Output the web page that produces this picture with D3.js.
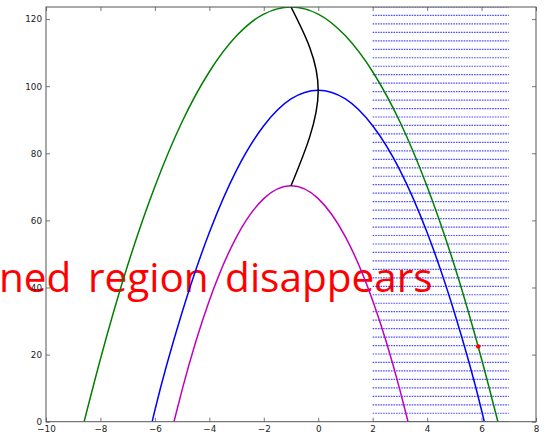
<!DOCTYPE html>
<html>
<head>
<meta charset="utf-8">
<script src="https://cdn.jsdelivr.net/npm/d3@7"></script>
<style>
  html, body { margin: 0; padding: 0; background: #fff; }
  svg { display: block; }
</style>
</head>
<body>
<svg id="chart" width="546" height="434"></svg>
<script>
// ---- data ----
const greenX = [-8.6, -8, -7, -6, -5, -4, -3, -2, -1, 0, 1, 2, 3, 4, 5, 6, 6.6];
const greenY = [0, 18.7, 46.6, 70.1, 89.4, 104.3, 115.0, 121.5, 123.6, 121.5, 115.0, 104.3, 89.4, 70.1, 46.6, 18.7, 0];

const blueX = [-6.1, -6, -5, -4, -3, -2, -1, 0, 1, 2, 3, 4, 5, 6, 6.1];
const blueY = [0, 3.4, 32.6, 56.4, 75.0, 88.2, 96.2, 98.8, 96.2, 88.2, 75.0, 56.4, 32.6, 3.4, 0];

const magentaX = [-5.3, -5, -4, -3, -2, -1, 0, 1, 2, 3, 3.3];
const magentaY = [0, 9.5, 36.1, 55.1, 66.5, 70.3, 66.5, 55.1, 36.1, 9.5, 0];

const vertexX = [-1, 0, -1];
const vertexY = [123.6, 98.8, 70.3];

const markX = [5.88];
const markY = [22.4];

const gridLevels = [0, 2.52, 5.04, 7.57, 10.09, 12.61, 15.13, 17.66, 20.18, 22.70,
  25.22, 27.75, 30.27, 32.79, 35.31, 37.84, 40.36, 42.88, 45.40, 47.93,
  50.45, 52.97, 55.49, 58.02, 60.54, 63.06, 65.58, 68.11, 70.63, 73.15,
  75.67, 78.20, 80.72, 83.24, 85.76, 88.29, 90.81, 93.33, 95.85, 98.38,
  100.90, 103.42, 105.94, 108.47, 110.99, 113.51, 116.03, 118.56, 121.08, 123.6];
const gridFrom = 2, gridTo = 7;

const xTicks = [-10, -8, -6, -4, -2, 0, 2, 4, 6, 8];
const yTicks = [0, 20, 40, 60, 80, 100, 120];
const xDomain = [-10, 8];
const yDomain = [0, 123.6];
const label = "ned region disappears";

// ---- drawing ----
const W = 546, H = 434;
const m = { left: 46, right: 10, top: 7, bottom: 12.3 };
const svg = d3.select("#chart");

const x = d3.scaleLinear().domain(xDomain).range([m.left, W - m.right]);
const y = d3.scaleLinear().domain(yDomain).range([H - m.bottom, m.top]);

svg.append("defs").append("clipPath").attr("id", "clip")
  .append("rect").attr("x", m.left).attr("y", m.top)
  .attr("width", W - m.left - m.right).attr("height", H - m.top - m.bottom);

// Big red text (behind)
svg.append("text")
  .attr("x", -1).attr("y", 292)
  .attr("font-family", "'Open Sans', sans-serif")
  .attr("font-size", 40.5)
  .attr("word-spacing", 6)
  .attr("fill", "#ff0000")
  .text(label);

const plot = svg.append("g").attr("clip-path", "url(#clip)");

// dotted horizontal rows
plot.selectAll("line.grid").data(gridLevels).join("line")
  .attr("class", "grid")
  .attr("x1", x(gridFrom)).attr("x2", x(gridTo))
  .attr("y1", d => y(d)).attr("y2", d => y(d))
  .attr("stroke", "#0000ff").attr("stroke-opacity", 0.7)
  .attr("stroke-width", 1.2).attr("stroke-dasharray", "1.6,1");

function series(xs, ys, color, curve) {
  const pts = xs.map((v, i) => [v, ys[i]]);
  const l = d3.line().x(d => x(d[0])).y(d => y(d[1])).curve(curve || d3.curveMonotoneX);
  plot.append("path").datum(pts).attr("d", l)
    .attr("fill", "none").attr("stroke", color).attr("stroke-width", 1.5);
}
series(greenX, greenY, "#008000");
series(blueX, blueY, "#0000ff");
series(magentaX, magentaY, "#bf00bf");
series(vertexX, vertexY, "#000000", d3.curveNatural);

plot.selectAll("circle.mark").data(markX).join("circle")
  .attr("class", "mark")
  .attr("cx", d => x(d)).attr("cy", (d, i) => y(markY[i]))
  .attr("r", 2.3).attr("fill", "#ff0000");

// axes (classic matplotlib: ticks inside on all four sides)
const axisColor = "#555";
const tickLen = 4;
function styleAxis(g) {
  g.select(".domain").remove();
  g.selectAll(".tick line").attr("stroke", axisColor).attr("stroke-width", 0.8);
  g.selectAll(".tick text").attr("fill", "#222")
    .attr("font-family", "'DejaVu Sans', sans-serif").attr("font-size", 8.8);
}
const fmt = d => (d < 0 ? "\u2212" + Math.abs(d) : String(d));

svg.append("g").attr("transform", `translate(0,${H - m.bottom})`)
  .call(d3.axisBottom(x).tickValues(xTicks).tickFormat(fmt).tickSizeInner(-tickLen).tickSizeOuter(0).tickPadding(4))
  .call(styleAxis);
svg.append("g").attr("transform", `translate(0,${m.top})`)
  .call(d3.axisTop(x).tickValues(xTicks).tickFormat("").tickSizeInner(-tickLen).tickSizeOuter(0))
  .call(styleAxis);
svg.append("g").attr("transform", `translate(${m.left},0)`)
  .call(d3.axisLeft(y).tickValues(yTicks).tickFormat(fmt).tickSizeInner(-tickLen).tickSizeOuter(0).tickPadding(4))
  .call(styleAxis);
svg.append("g").attr("transform", `translate(${W - m.right},0)`)
  .call(d3.axisRight(y).tickValues(yTicks).tickFormat("").tickSizeInner(-tickLen).tickSizeOuter(0))
  .call(styleAxis);

// frame
svg.append("rect")
  .attr("x", m.left).attr("y", m.top)
  .attr("width", W - m.left - m.right).attr("height", H - m.top - m.bottom)
  .attr("fill", "none").attr("stroke", axisColor).attr("stroke-width", 1);
</script>
</body>
</html>
